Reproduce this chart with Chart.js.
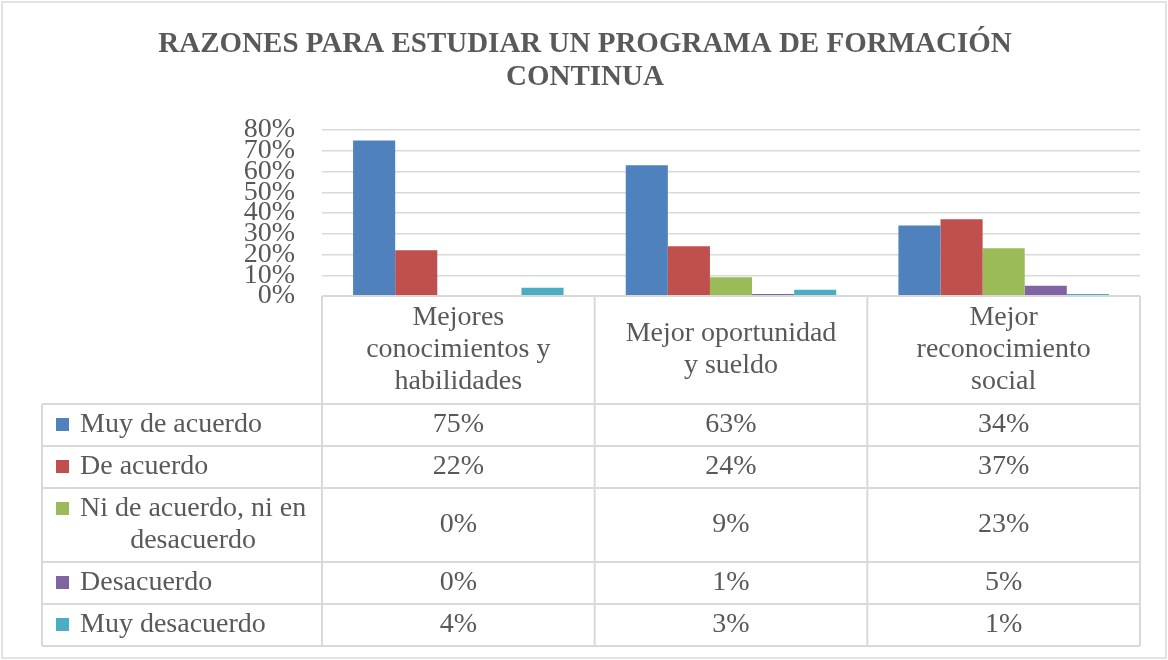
<!DOCTYPE html>
<html>
<head>
<meta charset="utf-8">
<script src="https://cdn.jsdelivr.net/npm/chart.js@4.4.3/dist/chart.umd.min.js"></script>
<style>
  html, body { margin: 0; padding: 0; background: #fff; }
  #wrap { width: 1168px; height: 660px; position: relative; }
</style>
</head>
<body>
<div id="wrap"><canvas id="chart"></canvas></div>
<script>
// data
const titleLines = ['RAZONES PARA ESTUDIAR UN PROGRAMA DE FORMACIÓN', 'CONTINUA'];
const categories = ['Mejores\nconocimientos y\nhabilidades', 'Mejor oportunidad\ny sueldo', 'Mejor\nreconocimiento\nsocial'];
const seriesNames = ['Muy de acuerdo', 'De acuerdo', 'Ni de acuerdo, ni en\ndesacuerdo', 'Desacuerdo', 'Muy desacuerdo'];
const muyDeAcuerdo = [0.75, 0.63, 0.34];
const deAcuerdo = [0.22, 0.24, 0.37];
const niDeAcuerdo = [0.00, 0.09, 0.23];
const desacuerdo = [0.00, 0.01, 0.05];
const muyDesacuerdo = [0.04, 0.03, 0.01];
const yTicks = [0, 0.1, 0.2, 0.3, 0.4, 0.5, 0.6, 0.7, 0.8];

const seriesValues = [muyDeAcuerdo, deAcuerdo, niDeAcuerdo, desacuerdo, muyDesacuerdo];
const seriesColors = ['#4f81bd', '#c0504d', '#9bbb59', '#8064a2', '#4bacc6'];

const TEXT = '#595959';
const LINE = '#d9d9d9';
const SERIF = '"Liberation Serif", "DejaVu Serif", serif';
const pct = v => Math.round(v * 100) + '%';

// title, data table and outer frame
const tablePlugin = {
    id: 'dataTable',
    afterDraw(chart) {
        const ctx = chart.ctx;
        const area = chart.chartArea;
        const x = chart.scales.x;
        const lineH = 32;
        const keyLeft = 42;
        const textLeft = 80;

        ctx.save();
        // outer frame
        ctx.strokeStyle = LINE;
        ctx.lineWidth = 1.5;
        ctx.strokeRect(2, 2, chart.width - 4, chart.height - 4);

        // title
        ctx.fillStyle = TEXT;
        ctx.font = 'bold 29px ' + SERIF;
        ctx.textAlign = 'center';
        ctx.textBaseline = 'middle';
        titleLines.forEach((t, i) => ctx.fillText(t, 585, 45 + i * 33));

        // column edges from the category scale
        const colW = (area.right - area.left) / categories.length;
        const edges = categories.map((c, i) => area.left + i * colW);
        edges.push(area.right);

        // rows
        const headH = 108;
        const rows = seriesNames.map(n => n.split('\n'));
        const rowHeights = rows.map(r => 10 + lineH * r.length);
        let y = area.bottom;
        const rowTops = [];
        let cur = y + headH;
        rowHeights.forEach(h => { rowTops.push(cur); cur += h; });
        const tableBottom = cur;

        // grid lines
        ctx.strokeStyle = LINE;
        ctx.lineWidth = 2;
        ctx.beginPath();
        ctx.moveTo(area.left, area.bottom);
        ctx.lineTo(area.right, area.bottom);
        rowTops.concat([tableBottom]).forEach(t => {
            ctx.moveTo(keyLeft, t);
            ctx.lineTo(area.right, t);
        });
        edges.forEach(e => {
            ctx.moveTo(e, area.bottom);
            ctx.lineTo(e, tableBottom);
        });
        ctx.moveTo(keyLeft, rowTops[0]);
        ctx.lineTo(keyLeft, tableBottom);
        ctx.stroke();

        ctx.font = '28px ' + SERIF;
        ctx.fillStyle = TEXT;
        ctx.textBaseline = 'middle';

        // category headers
        categories.forEach((c, i) => {
            const lines = c.split('\n');
            const cx = x.getPixelForValue(i);
            const cy = area.bottom + headH / 2;
            ctx.textAlign = 'center';
            lines.forEach((l, j) => ctx.fillText(l, cx, cy + (j - (lines.length - 1) / 2) * lineH));
        });

        // series rows
        rows.forEach((lines, r) => {
            const top = rowTops[r];
            const cy = top + rowHeights[r] / 2;
            const firstY = cy - (lines.length - 1) / 2 * lineH;
            ctx.fillStyle = seriesColors[r];
            ctx.fillRect(56, firstY - 7, 13, 13);
            ctx.fillStyle = TEXT;
            const boxW = Math.max(...lines.map(l => ctx.measureText(l).width));
            ctx.textAlign = 'center';
            lines.forEach((l, j) => ctx.fillText(l, textLeft + boxW / 2, firstY + j * lineH));
            seriesValues[r].forEach((v, i) => {
                ctx.fillText(pct(v), x.getPixelForValue(i), cy);
            });
        });
        ctx.restore();
    }
};

new Chart(document.getElementById('chart'), {
    type: 'bar',
    data: {
        labels: categories.map(c => c.replace(/\n/g, ' ')),
        datasets: seriesNames.map((n, i) => ({
            label: n.replace('\n', ' '),
            data: seriesValues[i],
            backgroundColor: seriesColors[i],
            borderWidth: 0,
            barPercentage: 1.0,
            categoryPercentage: 0.772
        }))
    },
    options: {
        responsive: true,
        maintainAspectRatio: false,
        animation: false,
        layout: { padding: { left: 230, right: 28, top: 130, bottom: 364 } },
        plugins: {
            legend: { display: false },
            title: { display: false },
            tooltip: { enabled: false }
        },
        scales: {
            x: { display: false },
            y: {
                min: 0,
                max: 0.8,
                afterFit(scale) { scale.width = 92; },
                afterBuildTicks(scale) { scale.ticks = yTicks.map(v => ({ value: v })); },
                border: { display: false },
                grid: { color: LINE, lineWidth: 1.5, drawTicks: false },
                ticks: {
                    autoSkip: false,
                    padding: 27,
                    color: TEXT,
                    font: { family: SERIF, size: 28, lineHeight: 1 },
                    callback: v => pct(v)
                }
            }
        }
    },
    plugins: [tablePlugin]
});
</script>
</body>
</html>
